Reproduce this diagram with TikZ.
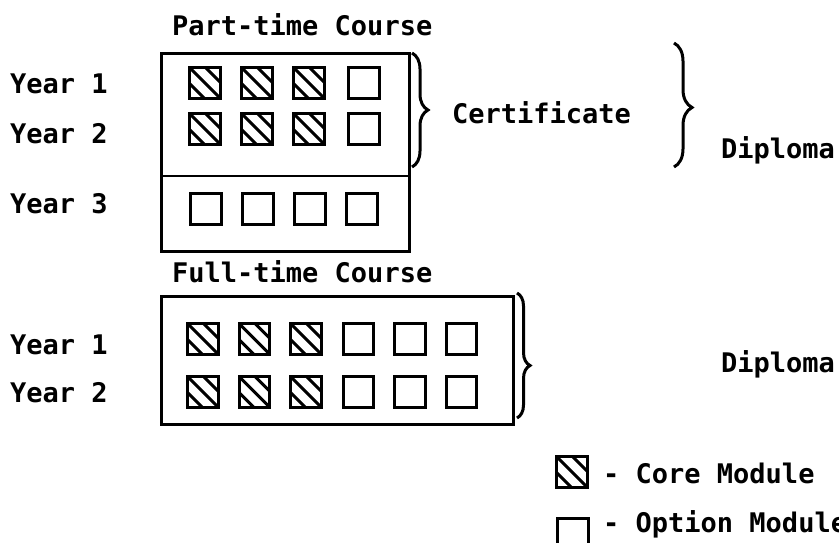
\documentclass[tikz,border=0pt]{standalone}
\usepackage{fontspec}
\setmonofont{DejaVu Sans Mono}
\usetikzlibrary{decorations.pathreplacing}

\begin{document}
\begin{tikzpicture}[x=1pt,y=-1pt]
\tikzset{txt/.style={font=\ttfamily\bfseries\fontsize{27}{32}\selectfont, inner sep=0, anchor=base west}}
\tikzset{frame/.style={draw, line width=3.2pt, inner sep=0, anchor=north west}}
\tikzset{module/.style={draw, line width=3pt, minimum size=30.5pt, inner sep=0, anchor=north west}}
\tikzset{core/.style={module, path picture={
			\foreach \a/\b in {-28/-12,-20/-20,-12/-28}
			\draw[line width=3pt, shift={(path picture bounding box.center)}] (\a,\b) -- ++(40,40);}}}
\tikzset{brace it/.style={decoration={brace, amplitude=#1}, decorate, line width=3pt}}
\useasboundingbox (0,0) rectangle (839,542);
%part-time course
\node[txt] (ptitle) at (172,35) {Part-time Course};
\node[frame, minimum width=248pt, minimum height=198pt] (part) at (160,52) {};
\draw[line width=2.8pt] (160,176) -- (408,176);
\node[txt] (py1) at (10,93) {Year 1};
\node[txt] (py2) at (10,143) {Year 2};
\node[txt] (py3) at (10,213) {Year 3};
\foreach \r/\y in {1/66,2/112} {
	\foreach \c in {0,1,2}
	\node[core] (p-\r-\c) at (188+52*\c,\y) {};
	\node[module] (p-\r-3) at (347,\y) {};
}
\foreach \c in {0,...,3}
\node[module] (p-3-\c) at (189+52*\c,192) {};
%full-time course
\node[txt] (ftitle) at (172,282) {Full-time Course};
\node[frame, minimum width=352pt, minimum height=128pt] (full) at (160,295) {};
\node[txt] (fy1) at (10,354) {Year 1};
\node[txt] (fy2) at (10,402) {Year 2};
\foreach \r/\y in {1/322,2/375} {
	\foreach \c in {0,1,2}
	\node[core] (f-\r-\c) at (186+51.5*\c,\y) {};
	\foreach \c in {3,4,5}
	\node[module] (f-\r-\c) at (187+51.5*\c,\y) {};
}
%awards
\node[txt] (cert) at (452,123) {Certificate};
\node[txt] (dip1) at (721,158) {Diploma};
\node[txt] (dip2) at (721,372) {Diploma};
\coordinate (c1) at (412,53);
\coordinate (c2) at (412,167);
\coordinate (d1) at (674,43);
\coordinate (d2) at (674,167);
\coordinate (e1) at (517,293);
\coordinate (e2) at (517,418);
\draw[brace it=16pt] (c1) -- (c2);
\draw[brace it=18pt, decoration={aspect=0.52}] (d1) -- (d2);
\draw[brace it=13pt, decoration={aspect=0.58}] (e1) -- (e2);
%key
\node[core] (kcore) at (555,455) {};
\node[module] (kopt) at (556,517) {};
\node[txt] (kc) at (603,483) {- Core Module};
\node[txt] (ko) at (603,532) {- Option Module};
\end{tikzpicture}
\end{document}
